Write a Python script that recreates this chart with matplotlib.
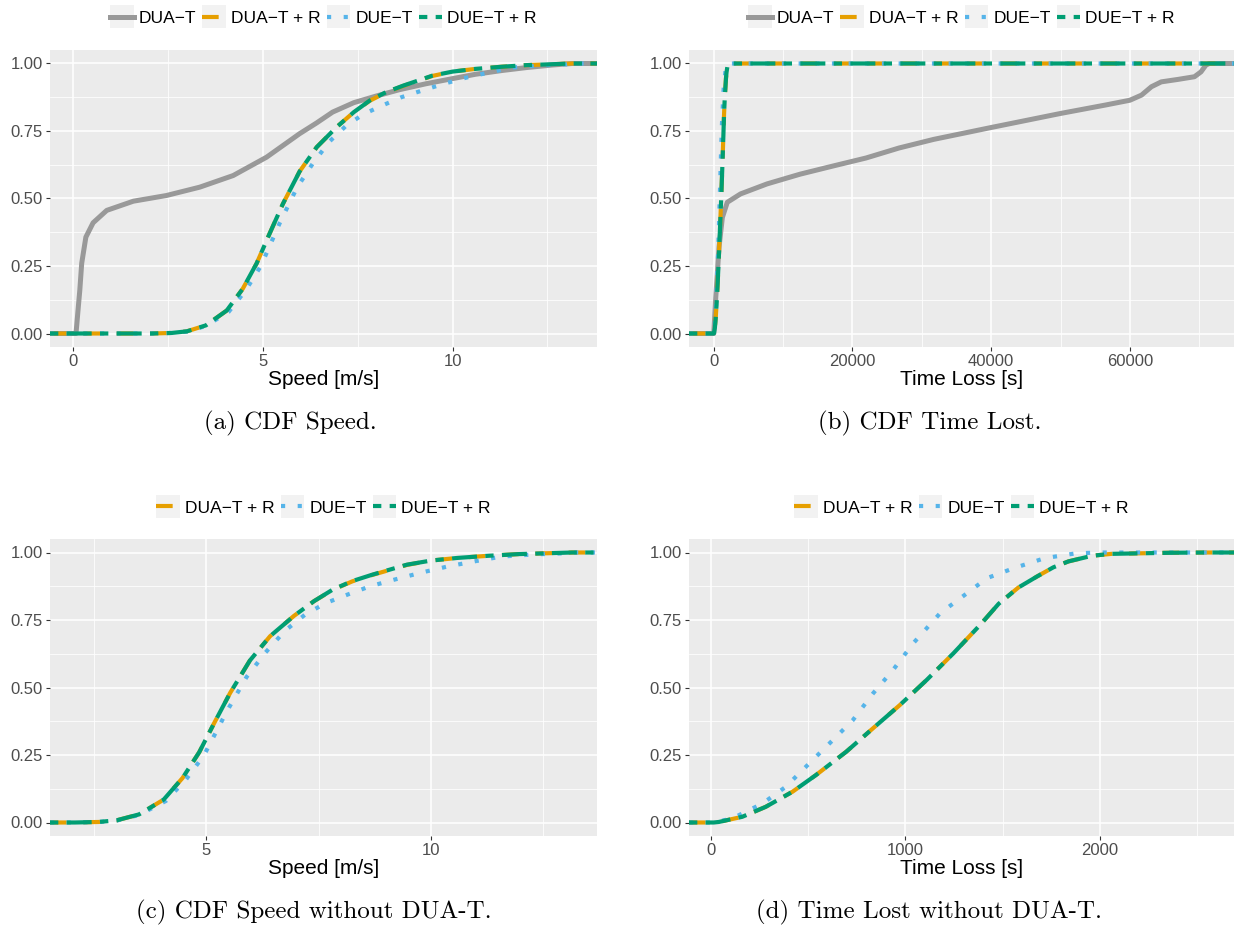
import numpy as np
import matplotlib
matplotlib.use("Agg")
from matplotlib import pyplot as plt
from matplotlib.lines import Line2D
from matplotlib.patches import Rectangle
from matplotlib.legend_handler import HandlerLine2D

plt.rcParams['font.family'] = ['Liberation Sans', 'DejaVu Sans']

# ---- data (ECDF points) ----
# speed [m/s]
speedDuaT = [0.05, 0.08, 0.14, 0.18, 0.23, 0.34, 0.53, 0.89, 1.59, 2.46, 3.34, 4.22, 5.1, 5.97, 6.42, 6.84, 7.4, 8.0, 8.6, 9.3, 10.0, 10.6, 11.3, 11.95, 12.6, 13.15]
cdfSpeedDuaT = [0.0, 0.0, 0.097, 0.16, 0.26, 0.357, 0.41, 0.456, 0.49, 0.511, 0.542, 0.585, 0.653, 0.74, 0.78, 0.82, 0.855, 0.88, 0.903, 0.925, 0.944, 0.96, 0.974, 0.985, 0.994, 1.0]

speedDuaTR = [2.07, 2.6, 3.0, 3.5, 4.05, 4.47, 4.84, 5.18, 5.53, 5.97, 6.42, 6.95, 7.4, 7.82, 8.25, 8.7, 9.47, 10.0, 10.6, 11.3, 11.95, 13.15]
cdfSpeedDuaTR = [0.0, 0.002, 0.008, 0.03, 0.085, 0.165, 0.26, 0.37, 0.48, 0.60, 0.69, 0.765, 0.82, 0.862, 0.893, 0.917, 0.954, 0.97, 0.98, 0.988, 0.994, 1.0]

speedDueT = [2.1, 2.6, 3.0, 3.5, 4.1, 4.55, 4.95, 5.45, 5.9, 6.32, 6.75, 7.2, 7.65, 8.16, 8.65, 9.2, 9.8, 10.37, 11.0, 11.58, 12.3, 13.0, 13.15]
cdfSpeedDueT = [0.0, 0.002, 0.007, 0.028, 0.08, 0.16, 0.25, 0.41, 0.54, 0.63, 0.71, 0.77, 0.812, 0.845, 0.875, 0.90, 0.926, 0.948, 0.968, 0.985, 0.993, 0.997, 1.0]

speedDueTR = [2.07, 2.6, 3.0, 3.5, 4.05, 4.47, 4.84, 5.18, 5.53, 5.97, 6.42, 6.95, 7.4, 7.82, 8.25, 8.7, 9.47, 10.0, 10.6, 11.3, 11.95, 13.15]
cdfSpeedDueTR = [0.0, 0.002, 0.008, 0.03, 0.085, 0.165, 0.26, 0.37, 0.48, 0.60, 0.69, 0.765, 0.82, 0.863, 0.894, 0.918, 0.955, 0.97, 0.98, 0.988, 0.994, 1.0]

# time loss [s]
lossDuaT = [0, 290, 760, 1240, 1950, 3860, 7670, 12430, 17140, 21950, 26700, 31710, 40000, 50000, 56430, 60000, 61670, 63100, 64520, 66900, 69300, 70240, 70950, 71430]
cdfLossDuaT = [0.0, 0.135, 0.32, 0.43, 0.486, 0.517, 0.554, 0.59, 0.62, 0.65, 0.687, 0.719, 0.763, 0.815, 0.846, 0.864, 0.883, 0.914, 0.932, 0.941, 0.951, 0.969, 0.994, 1.0]

lossDuaTR = [14, 40, 160, 281, 419, 540, 695, 833, 971, 1109, 1247, 1384, 1479, 1580, 1676, 1760, 1838, 1960, 2060, 2360, 2562]
cdfLossDuaTR = [0.0, 0.002, 0.021, 0.058, 0.114, 0.176, 0.262, 0.349, 0.435, 0.528, 0.627, 0.732, 0.81, 0.87, 0.911, 0.945, 0.967, 0.988, 0.995, 0.999, 1.0]

lossDueT = [14, 109, 264, 384, 522, 626, 729, 833, 936, 1040, 1178, 1316, 1419, 1557, 1716, 1877, 2000, 2562]
cdfLossDueT = [0.0, 0.015, 0.07, 0.132, 0.231, 0.305, 0.379, 0.478, 0.565, 0.664, 0.775, 0.849, 0.905, 0.942, 0.979, 0.997, 1.0, 1.0]

lossDueTR = [14, 40, 160, 281, 419, 540, 695, 833, 971, 1109, 1247, 1384, 1479, 1580, 1676, 1760, 1838, 1960, 2060, 2360, 2562]
cdfLossDueTR = [0.0, 0.002, 0.021, 0.058, 0.114, 0.176, 0.262, 0.349, 0.435, 0.528, 0.627, 0.732, 0.81, 0.87, 0.911, 0.945, 0.967, 0.988, 0.995, 0.999, 1.0]

labels = ["DUA\u2212T", "DUA\u2212T + R", "DUE\u2212T", "DUE\u2212T + R"]
colors = ["#999999", "#E69F00", "#56B4E9", "#009E73"]
styles = ["-", (0, (4, 4)), (0, (1, 3)), (0, (2, 2, 6, 2))]
widths = [3.6, 3.0, 3.0, 3.0]

captions = ["(a) CDF Speed.", "(b) CDF Time Lost.", "(c) CDF Speed without DUA-T.", "(d) Time Lost without DUA-T."]


class KeyBox(HandlerLine2D):
    # grey key background like ggplot
    def create_artists(self, legend, orig_handle, xdescent, ydescent, width, height, fontsize, trans):
        h = height * 1.9
        box = Rectangle((-xdescent, -ydescent + height / 2 - h / 2), width, h,
                        facecolor="#F2F2F2", edgecolor="none", transform=trans)
        arts = super().create_artists(legend, orig_handle, xdescent, ydescent, width, height, fontsize, trans)
        return [box] + arts


def expand(lo, hi):
    d = hi - lo
    return lo - 0.05 * d, hi + 0.05 * d


def panel(ax, series, idx, xmajor, xminor, xlabel):
    lo = min(min(s[0]) for s in series)
    hi = max(max(s[0]) for s in series)
    xl = expand(lo, hi)
    for (x, y), i in zip(series, idx):
        xs = [xl[0]] + list(x) + [xl[1]]        # stat_ecdf padding to -Inf / Inf
        ys = [0.0] + list(y) + [1.0]
        ax.plot(xs, ys, color=colors[i], linestyle=styles[i], linewidth=widths[i], label=labels[i],
                solid_joinstyle="round", dash_joinstyle="round")
    ax.set_xlim(xl)
    ax.set_ylim(-0.05, 1.05)
    ax.set_facecolor("#EBEBEB")
    for s in ax.spines.values():
        s.set_visible(False)
    ax.set_xticks(xmajor)
    ax.set_xticks(xminor, minor=True)
    ax.set_yticks([0, 0.25, 0.5, 0.75, 1.0])
    ax.set_yticks([0.125, 0.375, 0.625, 0.875], minor=True)
    ax.set_yticklabels(["0.00", "0.25", "0.50", "0.75", "1.00"])
    ax.set_xticklabels([str(v) for v in xmajor])
    ax.grid(which="major", color="white", linewidth=1.1)
    ax.grid(which="minor", color="white", linewidth=0.55)
    ax.set_axisbelow(True)
    ax.tick_params(which="major", length=3, width=0.8, color="#333333", labelcolor="#4D4D4D", labelsize=12, pad=2)
    ax.tick_params(which="minor", length=0)
    ax.set_xlabel(xlabel, fontsize=15, labelpad=1)


fig = plt.figure(figsize=(12.35, 9.27), dpi=100)
W, H = 1235.0, 927.0
boxes = [(50, 50, 597, 347), (689, 50, 1234, 347), (50, 539, 597, 836), (689, 539, 1234, 836)]
axs = []
for (l, t, r, b) in boxes:
    axs.append(fig.add_axes([l / W, 1 - b / H, (r - l) / W, (b - t) / H]))

panel(axs[0], [(speedDuaT, cdfSpeedDuaT), (speedDuaTR, cdfSpeedDuaTR), (speedDueT, cdfSpeedDueT), (speedDueTR, cdfSpeedDueTR)],
      [0, 1, 2, 3], [0, 5, 10], [2.5, 7.5, 12.5], "Speed [m/s]")
panel(axs[1], [(lossDuaT, cdfLossDuaT), (lossDuaTR, cdfLossDuaTR), (lossDueT, cdfLossDueT), (lossDueTR, cdfLossDueTR)],
      [0, 1, 2, 3], [0, 20000, 40000, 60000], [10000, 30000, 50000, 70000], "Time Loss [s]")
panel(axs[2], [(speedDuaTR, cdfSpeedDuaTR), (speedDueT, cdfSpeedDueT), (speedDueTR, cdfSpeedDueTR)],
      [1, 2, 3], [5, 10], [2.5, 7.5, 12.5], "Speed [m/s]")
panel(axs[3], [(lossDuaTR, cdfLossDuaTR), (lossDueT, cdfLossDueT), (lossDueTR, cdfLossDueTR)],
      [1, 2, 3], [0, 1000, 2000], [500, 1500, 2500], "Time Loss [s]")

legend_y = [18, 18, 508, 508]
for ax, (l, t, r, b), ly in zip(axs, boxes, legend_y):
    h, lab = ax.get_legend_handles_labels()
    fig.legend(h, lab, loc="center", bbox_to_anchor=((l + r) / 2 / W, 1 - ly / H), ncol=len(h),
               frameon=False, fontsize=12.5, handlelength=1.35, handletextpad=0.3, columnspacing=0.35,
               handler_map={Line2D: KeyBox()})

cap_pos = [(290, 423), (930, 423), (314, 912), (929, 912)]
for txt, (cx, cy) in zip(captions, cap_pos):
    fig.text(cx / W, 1 - cy / H, txt, ha="center", va="center", fontsize=18, family="cmr10")

plt.savefig("out.png", dpi=100)
